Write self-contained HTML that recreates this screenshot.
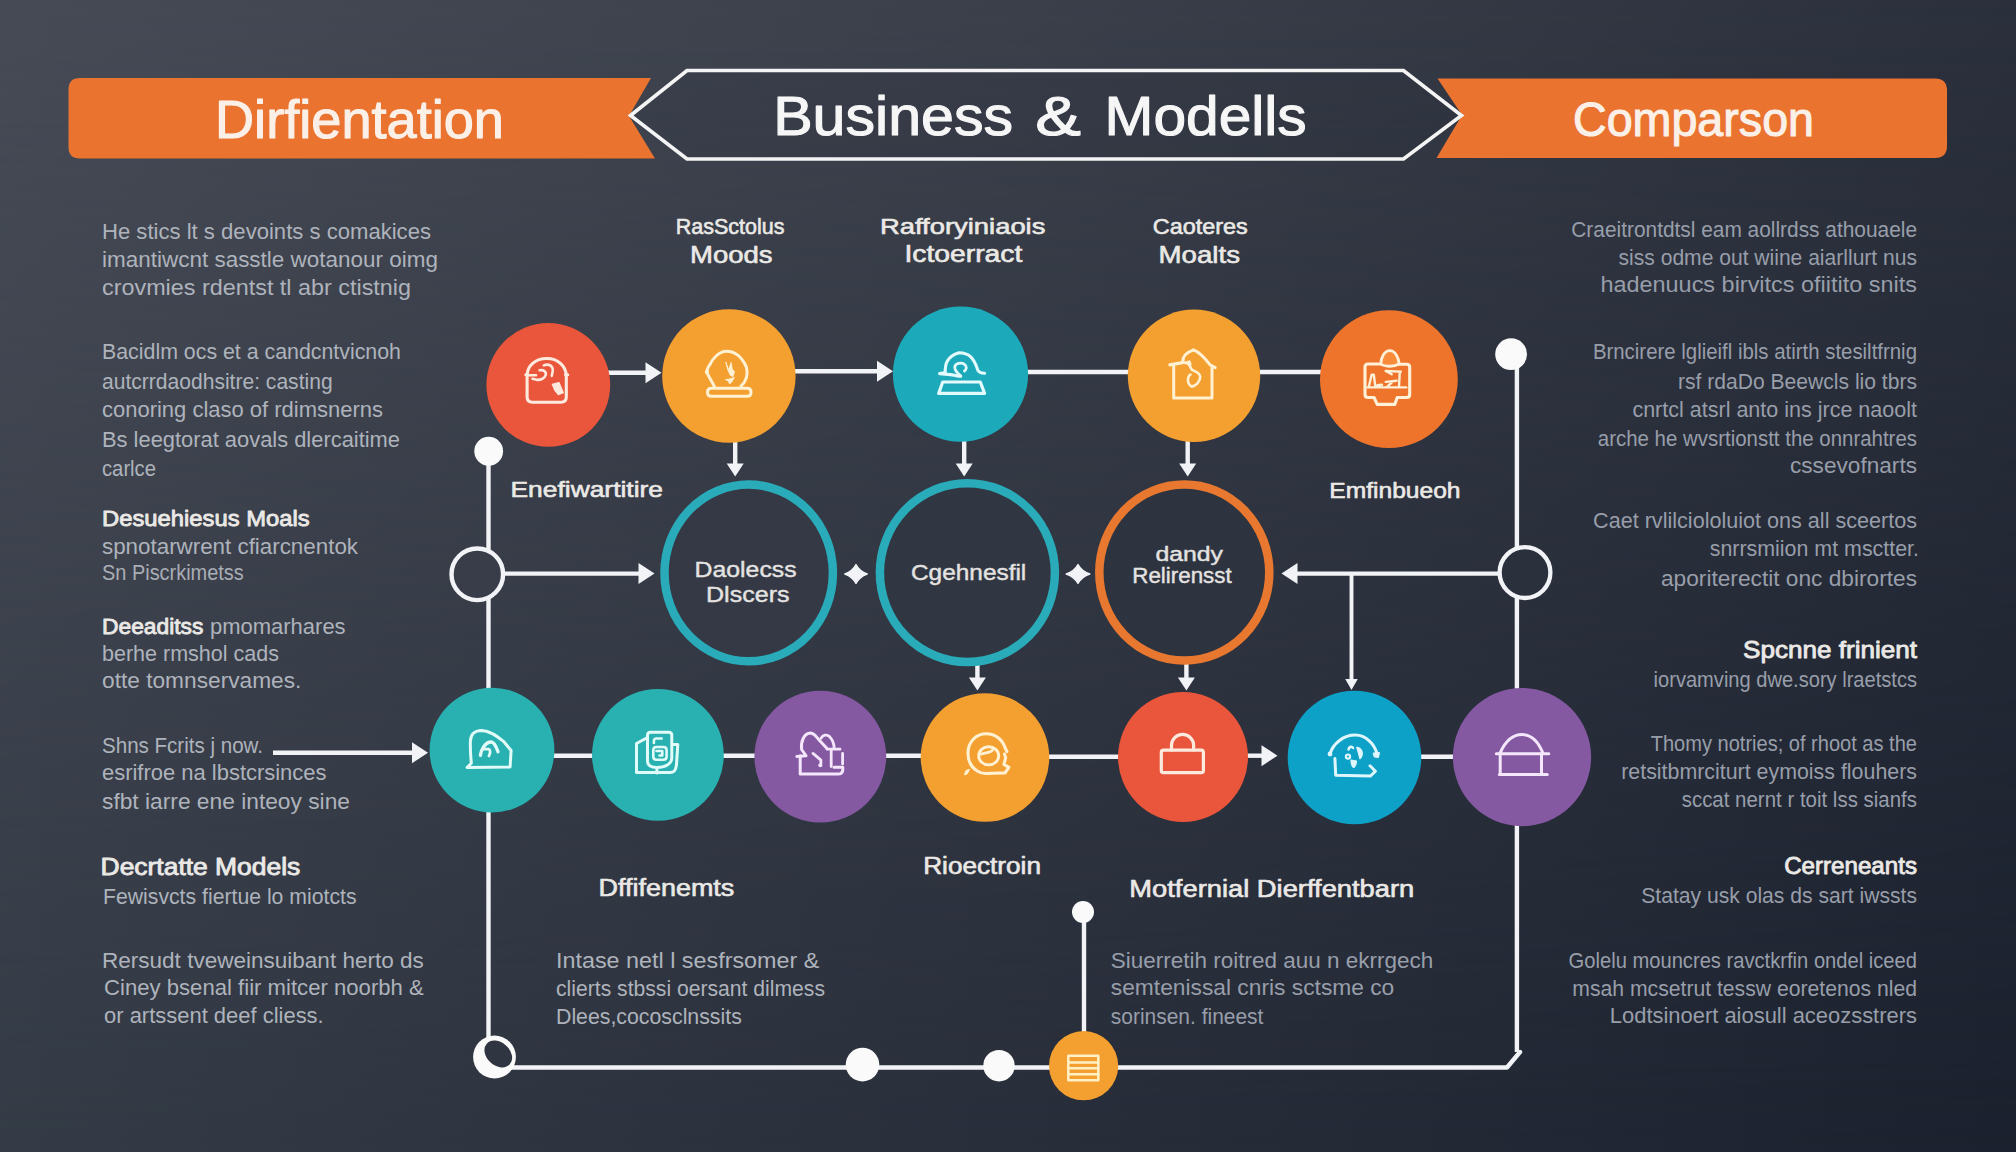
<!DOCTYPE html>
<html lang="en"><head><meta charset="utf-8"><title>Business &amp; Modells</title>
<style>html,body{margin:0;padding:0;background:#30353f;}body{width:2016px;height:1152px;overflow:hidden;}svg{display:block;}text{font-family:"Liberation Sans", "DejaVu Sans", sans-serif;}</style>
</head><body>
<svg width="2016" height="1152" viewBox="0 0 2016 1152">
<defs>
<linearGradient id="gt" x1="0" y1="0" x2="1" y2="0"><stop offset="0" stop-color="#474b56"/><stop offset="0.5" stop-color="#3b404b"/><stop offset="1" stop-color="#2b303c"/></linearGradient>
<linearGradient id="gb" x1="0" y1="0" x2="1" y2="0"><stop offset="0" stop-color="#343b46"/><stop offset="0.5" stop-color="#282e3a"/><stop offset="1" stop-color="#1b212e"/></linearGradient>
<linearGradient id="gm" x1="0" y1="0" x2="0" y2="1"><stop offset="0" stop-color="#000"/><stop offset="1" stop-color="#fff"/></linearGradient>
<mask id="mk" maskUnits="userSpaceOnUse" x="0" y="0" width="2016" height="1152"><rect width="2016" height="1152" fill="url(#gm)"/></mask>
</defs>
<rect width="2016" height="1152" fill="url(#gt)"/>
<rect width="2016" height="1152" fill="url(#gb)" mask="url(#mk)"/>
<path d="M80,78 H651 L629,116 L655,158.5 H80 Q68.5,158.5 68.5,147 V89.5 Q68.5,78 80,78 Z" fill="#ea7330"/>
<path d="M1437.5,78.5 H1935 Q1947,78.5 1947,90.5 V146 Q1947,158 1935,158 H1436.5 L1462,115 Z" fill="#ea7330"/>
<path d="M630.5,115.5 L687,70.5 H1403.5 L1461.5,115.5 L1403.5,159 H687 Z" fill="rgba(0,0,10,0.05)" stroke="#f4f4f4" stroke-width="3.6" stroke-linejoin="miter"/>
<text x="215.0" y="137.5" font-size="53" font-weight="normal" fill="#fbf0e8" text-anchor="start" textLength="289.0" lengthAdjust="spacingAndGlyphs" stroke="#fbf0e8" stroke-width="1.1" stroke-linejoin="round">Dirfientation</text>
<text x="773.2" y="134.8" font-size="56" font-weight="normal" fill="#f6f6f6" text-anchor="start" textLength="239.8" lengthAdjust="spacingAndGlyphs" stroke="#f6f6f6" stroke-width="1.1" stroke-linejoin="round">Business</text>
<text x="1035.3" y="134.8" font-size="56" font-weight="normal" fill="#f6f6f6" text-anchor="start" textLength="45.7" lengthAdjust="spacingAndGlyphs" stroke="#f6f6f6" stroke-width="1.1" stroke-linejoin="round">&amp;</text>
<text x="1104.5" y="134.8" font-size="56" font-weight="normal" fill="#f6f6f6" text-anchor="start" textLength="202.2" lengthAdjust="spacingAndGlyphs" stroke="#f6f6f6" stroke-width="1.1" stroke-linejoin="round">Modells</text>
<text x="1573.0" y="136.3" font-size="49" font-weight="normal" fill="#fbf0e8" text-anchor="start" textLength="241.0" lengthAdjust="spacingAndGlyphs" stroke="#fbf0e8" stroke-width="1.1" stroke-linejoin="round">Comparson</text>
<line x1="488.5" y1="451" x2="488.5" y2="1040" stroke="#f1f3f6" stroke-width="4.4"/>
<line x1="1516.9" y1="354" x2="1516.9" y2="1052" stroke="#f1f3f6" stroke-width="4.4"/>
<path d="M500,1067.5 H1507 L1520,1052" fill="none" stroke="#f1f3f6" stroke-width="4.4" stroke-linejoin="round" stroke-linecap="round"/>
<line x1="606" y1="372.7" x2="648" y2="372.7" stroke="#f1f3f6" stroke-width="4.4"/>
<path d="M661.5,372.7 L645.5,362.2 V383.2 Z" fill="#f1f3f6"/>
<line x1="792" y1="371.2" x2="879" y2="371.2" stroke="#f1f3f6" stroke-width="4.4"/>
<path d="M893,371.2 L877,360.7 V381.7 Z" fill="#f1f3f6"/>
<line x1="1025" y1="372" x2="1130" y2="372" stroke="#f1f3f6" stroke-width="4.4"/>
<line x1="1258" y1="372" x2="1322" y2="372" stroke="#f1f3f6" stroke-width="4.4"/>
<line x1="735.2" y1="440" x2="735.2" y2="465" stroke="#f1f3f6" stroke-width="4.4"/>
<path d="M735.2,476.5 L726.7,463.5 H743.7 Z" fill="#f1f3f6"/>
<line x1="964.2" y1="440" x2="964.2" y2="465" stroke="#f1f3f6" stroke-width="4.4"/>
<path d="M964.2,476.5 L955.7,463.5 H972.7 Z" fill="#f1f3f6"/>
<line x1="1187.7" y1="440" x2="1187.7" y2="465" stroke="#f1f3f6" stroke-width="4.4"/>
<path d="M1187.7,476.5 L1179.2,463.5 H1196.2 Z" fill="#f1f3f6"/>
<line x1="502" y1="573.6" x2="640" y2="573.6" stroke="#f1f3f6" stroke-width="4.4"/>
<path d="M654.5,573.6 L638.5,563.1 V584.1 Z" fill="#f1f3f6"/>
<line x1="1296" y1="573.6" x2="1500" y2="573.6" stroke="#f1f3f6" stroke-width="4.4"/>
<path d="M1281.5,573.6 L1297.5,563.1 V584.1 Z" fill="#f1f3f6"/>
<line x1="1351.5" y1="573.6" x2="1351.5" y2="680" stroke="#f1f3f6" stroke-width="3.9"/>
<path d="M1351.5,690 L1345.25,679 H1357.75 Z" fill="#f1f3f6"/>
<line x1="977.4" y1="662" x2="977.4" y2="679" stroke="#f1f3f6" stroke-width="4.4"/>
<path d="M977.4,690.5 L968.9,677.5 H985.9 Z" fill="#f1f3f6"/>
<line x1="1186.4" y1="662" x2="1186.4" y2="679" stroke="#f1f3f6" stroke-width="4.4"/>
<path d="M1186.4,690.5 L1177.9,677.5 H1194.9 Z" fill="#f1f3f6"/>
<line x1="273" y1="752.7" x2="414" y2="752.7" stroke="#f1f3f6" stroke-width="4.4"/>
<path d="M428,752.7 L412,742.2 V763.2 Z" fill="#f1f3f6"/>
<line x1="550" y1="755.7" x2="925" y2="755.7" stroke="#f1f3f6" stroke-width="4.4"/>
<line x1="1045" y1="756.8" x2="1120" y2="756.8" stroke="#f1f3f6" stroke-width="4.4"/>
<line x1="1245" y1="755.7" x2="1263" y2="755.7" stroke="#f1f3f6" stroke-width="4.4"/>
<path d="M1277.5,755.7 L1261.5,745.2 V766.2 Z" fill="#f1f3f6"/>
<line x1="1418" y1="756.8" x2="1456" y2="756.8" stroke="#f1f3f6" stroke-width="4.4"/>
<line x1="1084" y1="912" x2="1084" y2="1035" stroke="#f1f3f6" stroke-width="4.4"/>
<path d="M844.8,574 Q852.64,571.18 856,564.6 Q859.36,571.18 867.2,574 Q859.36,576.82 856,583.4 Q852.64,576.82 844.8,574 Z" fill="#f1f3f6" stroke="#f1f3f6" stroke-width="1.4" stroke-linejoin="round"/>
<path d="M1066.2,574 Q1074.46,571.18 1078,564.6 Q1081.54,571.18 1089.8,574 Q1081.54,576.82 1078,583.4 Q1074.46,576.82 1066.2,574 Z" fill="#f1f3f6" stroke="#f1f3f6" stroke-width="1.4" stroke-linejoin="round"/>
<circle cx="548.3" cy="384.9" r="61.9" fill="#e9563b"/>
<circle cx="728.9" cy="376" r="66.7" fill="#f4a031"/>
<circle cx="960.5" cy="374.1" r="67.6" fill="#1caabb"/>
<circle cx="1194" cy="375.8" r="66.2" fill="#f4a031"/>
<circle cx="1388.9" cy="379.2" r="68.9" fill="#ee742b"/>
<circle cx="492" cy="750.1" r="62.4" fill="#29b0b0"/>
<circle cx="657.9" cy="754.9" r="65.9" fill="#29b0b0"/>
<circle cx="820.3" cy="756.6" r="65.9" fill="#8558a2"/>
<circle cx="985" cy="757.5" r="64.3" fill="#f4a031"/>
<circle cx="1183" cy="757" r="65" fill="#e9563b"/>
<circle cx="1354.5" cy="757.5" r="66.8" fill="#0ea1c8"/>
<circle cx="1522" cy="757.1" r="69.1" fill="#8558a2"/>
<circle cx="1083.6" cy="1065.7" r="34.6" fill="#f4a031"/>
<ellipse cx="748.7" cy="572.9" rx="84.2" ry="88.4" fill="#343945" stroke="#29abb9" stroke-width="8.5"/>
<ellipse cx="967.4" cy="572.6" rx="87.5" ry="89.4" fill="#313742" stroke="#29abb9" stroke-width="8.5"/>
<ellipse cx="1184.3" cy="572.5" rx="85" ry="88" fill="#2e343f" stroke="#e8782f" stroke-width="8.5"/>
<ellipse cx="477.3" cy="574.3" rx="25.8" ry="25.8" fill="#383d49" stroke="#f1f3f6" stroke-width="4.4"/>
<ellipse cx="1525" cy="572.6" rx="25.4" ry="25.4" fill="#2a303c" stroke="#f1f3f6" stroke-width="4.3"/>
<circle cx="488.7" cy="451.2" r="14.4" fill="#fafafa"/>
<circle cx="1511.1" cy="354.2" r="15.9" fill="#fafafa"/>
<circle cx="1083" cy="912" r="11" fill="#fafafa"/>
<circle cx="862.5" cy="1064.6" r="16.8" fill="#fafafa"/>
<circle cx="999" cy="1065.7" r="15.7" fill="#fafafa"/>
<circle cx="494.5" cy="1057" r="21.4" fill="#fafafa"/>
<ellipse cx="498.3" cy="1054" rx="15.5" ry="11.5" fill="#303641" transform="rotate(42 498.3 1054)"/>
<path d="M527.1,375 C527.5,366 535,358.5 546.9,358.5 C558,358.5 565.5,366 566.3,375 V397 Q566.3,402.2 561,402.2 H532.5 Q527.1,402.2 527.1,397 Z" fill="none" stroke="#fdeadf" stroke-width="3.1" stroke-linecap="round" stroke-linejoin="round"/>
<path d="M525.8,374.8 H528 M565.5,374.8 H567.8" fill="none" stroke="#fdeadf" stroke-width="3" stroke-linecap="round" stroke-linejoin="round"/>
<path d="M528.5,375.3 H536 M539.6,370.3 C544,369.5 546.5,372 545.7,375 C544.8,378.5 540,380.5 536.6,379.7 L532.5,378.8" fill="none" stroke="#fdeadf" stroke-width="2.6" stroke-linecap="round" stroke-linejoin="round"/>
<path d="M543.8,365.4 C547,364 551,364.5 552.5,368 C553.5,371 552.5,373.5 551.7,375.8" fill="none" stroke="#fdeadf" stroke-width="2.6" stroke-linecap="round" stroke-linejoin="round"/>
<path d="M552.3,384.3 L559,382.5 L563.3,392.8 L558.4,394.6 L554.8,390.3 Z" fill="#fdeadf" stroke="#fdeadf" stroke-width="1.2" stroke-linecap="round" stroke-linejoin="round"/>
<path d="M714.3,386.2 L707.8,374.5 C706,371 708,367 710,364.3 C712.5,359 719,351.2 726.5,351.2 C735,351.2 742,357 746.5,367.3 C748,374 746.5,381 741,386.2" fill="none" stroke="#fff1d2" stroke-width="3" stroke-linecap="round" stroke-linejoin="round"/>
<circle cx="706.9" cy="372" r="2.1" fill="#fff1d2"/>
<path d="M711.5,388.3 H747 Q751,388.3 751,392.2 Q751,396.2 747,396.2 H711.5 Q707.5,396.2 707.5,392.2 Q707.5,388.3 711.5,388.3 Z" fill="none" stroke="#fff1d2" stroke-width="3" stroke-linecap="round" stroke-linejoin="round"/>
<path d="M726,362.5 L728.2,370 L730,366 L731,362.5 L732.3,369.5 L734.5,371.5 L733,376.5 L730.5,375.5 L728.5,371.5 Z" fill="#fff1d2" stroke="#fff1d2" stroke-width="1" stroke-linecap="round" stroke-linejoin="round"/>
<path d="M725.8,379.5 L730,379 L734.3,377.5 L732,381.5 L729.7,384 L728.5,381.5 Z" fill="#fff1d2" stroke="#fff1d2" stroke-width="1" stroke-linecap="round" stroke-linejoin="round"/>
<path d="M939.8,373.4 L945.2,372.4 C945,364 947,356.5 959,352.8 C969,352.8 974,358 977.9,370.4 C979,372.5 982,373.2 984.6,373.2" fill="none" stroke="#e3fbfd" stroke-width="3.1" stroke-linecap="round" stroke-linejoin="round"/>
<path d="M939.8,373.7 L950.6,374.6 C954,375 957,376.6 960.5,376.1" fill="none" stroke="#e3fbfd" stroke-width="3.1" stroke-linecap="round" stroke-linejoin="round"/>
<path d="M960.9,376.1 C957.5,373.5 954.5,370 954.8,366.7 C955.3,363.5 961,362 964.5,364.3 C967,366 966.8,369.5 964.5,371" fill="none" stroke="#e3fbfd" stroke-width="2.8" stroke-linecap="round" stroke-linejoin="round"/>
<path d="M942.7,382 H980.3 L984.6,393.4 H938.7 Z" fill="none" stroke="#e3fbfd" stroke-width="3.2" stroke-linecap="round" stroke-linejoin="round"/>
<path d="M1173.7,365.3 V398.1 H1212 V367.8" fill="none" stroke="#fff1d2" stroke-width="3" stroke-linecap="round" stroke-linejoin="round"/>
<path d="M1169.8,364.8 L1182.6,362.6" fill="none" stroke="#fff1d2" stroke-width="3.2" stroke-linecap="round" stroke-linejoin="round"/>
<path d="M1182.8,361.7 C1182.5,356 1186,352.5 1193.5,349.8 C1199,352 1205,358 1209.9,364.7 L1215.2,367.6" fill="none" stroke="#fff1d2" stroke-width="3" stroke-linecap="round" stroke-linejoin="round"/>
<path d="M1183.5,362.3 L1189,364 L1191.7,369.6 C1194,371.5 1199.5,372 1200.2,376.5 C1200.5,381.5 1196,386 1191.7,386.6 C1188.5,385.5 1187.2,381 1188.3,377.5 C1188.8,376 1189.5,375 1190.5,374.5" fill="none" stroke="#fff1d2" stroke-width="2.6" stroke-linecap="round" stroke-linejoin="round"/>
<path d="M1186.8,361.5 L1190,360.8 L1191.2,364.5 L1189.5,366.5 Z" fill="#fff1d2" stroke="#fff1d2" stroke-width="1" stroke-linecap="round" stroke-linejoin="round"/>
<path d="M1380.8,364 C1381,357 1384.5,350.6 1389.9,350.6 C1395,350.6 1398.5,357 1399.2,364 C1393,367.5 1384,366.5 1380.8,364 Z" fill="#f78b3a" stroke="#fff0d8" stroke-width="2.8" stroke-linecap="round" stroke-linejoin="round"/>
<path d="M1368,364 H1380.5 M1399.5,364.2 H1406.7 Q1409.7,364.2 1409.7,367.2 V394.5 Q1409.7,397.5 1406.7,397.5 H1397.2 L1394.8,404.4 H1377.2 L1374.1,397.5 H1368 Q1365,397.5 1365,394.5 V367 Q1365,364 1368,364" fill="none" stroke="#fff0d8" stroke-width="3.1" stroke-linecap="round" stroke-linejoin="round"/>
<path d="M1367.4,387.4 H1406.3 M1368.9,386.5 L1371.7,374.6 H1373.8 L1375.3,386.5 M1385.7,371 L1400.9,371.6 M1399.8,372 L1399,386.5 M1385.7,371 L1391.7,374.3 M1385.7,381.9 L1396.6,380.7 M1392,382.3 L1387.5,386.3 M1377.5,385.3 L1382,384.8" fill="none" stroke="#fff0d8" stroke-width="2.4" stroke-linecap="round" stroke-linejoin="round"/>
<path d="M467,767.5 L471.3,763.2 C470.5,755 470.2,748 470.4,741.3 C470.5,735 474,730.4 481.6,730.4 C490,730.6 497,736 503.5,741.3 L511.1,750.5 L510.1,766.9 Z" fill="none" stroke="#e1fbf9" stroke-width="3" stroke-linecap="round" stroke-linejoin="round"/>
<path d="M480.4,755.3 C481,750 485,742 491.3,742 C494.5,742 496.5,747.5 498,751.7" fill="none" stroke="#e1fbf9" stroke-width="3.4" stroke-linecap="round" stroke-linejoin="round"/>
<path d="M484.8,749.2 H489 C490.5,750 490.5,753.5 488.9,755.9" fill="none" stroke="#e1fbf9" stroke-width="2.8" stroke-linecap="round" stroke-linejoin="round"/>
<path d="M646.6,738 L636.5,743.5 V772.5 H656.9 M672.7,744.4 H677.8 L676.5,764.5 C676,770 674.5,772.5 670,772.5 H657" fill="none" stroke="#e1fbf9" stroke-width="3" stroke-linecap="round" stroke-linejoin="round"/>
<path d="M650.5,732.2 H668.8 Q671.8,732.2 671.8,735.2 V758 C671.8,764 665,767.5 656.9,767.6 C651,767.5 647.5,765 647.5,761 V735.2 Q647.5,732.2 650.5,732.2 Z M656.9,767.6 V773" fill="none" stroke="#e1fbf9" stroke-width="3" stroke-linecap="round" stroke-linejoin="round"/>
<path d="M653.9,743 V741 Q653.9,738.5 656.5,738.5 H661.7 M653.3,750 Q653.3,747 656.5,747 H663.5 Q666.6,747 666.6,750 V756.5 Q666.6,759.7 663.5,759.7 H656.5 Q653.3,759.7 653.3,756.5 Z M656.5,751 H662.3 V755.5 H659.5" fill="none" stroke="#e1fbf9" stroke-width="2.6" stroke-linecap="round" stroke-linejoin="round"/>
<path d="M800.2,755.8 V774.1 H838 Q842.8,774.1 842.8,769.5 V767.2 H834" fill="none" stroke="#f4e6fb" stroke-width="3" stroke-linecap="round" stroke-linejoin="round"/>
<path d="M796.8,756.4 L806,755.8" fill="none" stroke="#f4e6fb" stroke-width="3" stroke-linecap="round" stroke-linejoin="round"/>
<path d="M805.5,755 L801.6,749.5 C800.5,742 804,733.2 810.6,733.1 C815,733.5 817,738 820.5,741.5 L827,748.6" fill="none" stroke="#f4e6fb" stroke-width="3" stroke-linecap="round" stroke-linejoin="round"/>
<path d="M821,738.2 C823,735 826.5,734 829.4,736.4 C832,739 834.2,743 834.2,748.5" fill="none" stroke="#f4e6fb" stroke-width="2.8" stroke-linecap="round" stroke-linejoin="round"/>
<path d="M827,749.2 H840 M831.2,749.2 V766.5 M842.6,753.5 V764" fill="none" stroke="#f4e6fb" stroke-width="2.8" stroke-linecap="round" stroke-linejoin="round"/>
<path d="M813,753.4 L820.9,760.1 V764" fill="none" stroke="#f4e6fb" stroke-width="2.8" stroke-linecap="round" stroke-linejoin="round"/>
<circle cx="820.3" cy="765.3" r="2" fill="#f4e6fb"/>
<path d="M1006.9,751.5 L1005.2,748 C1002.5,739.5 995.5,733.7 986.3,733.7 C976,733.7 968,742 968,752.8 C968,762 971.5,767.5 977.2,771 C980,772.8 982.5,773.5 985.5,773.5 L1005.1,772.9 L1008.8,767.4 L1003.9,764.4 L1005.7,757.7 L1004.5,754" fill="none" stroke="#fff1d2" stroke-width="3.1" stroke-linecap="round" stroke-linejoin="round"/>
<path d="M964.5,774.5 L966,770.5 L969.5,769.3 L967.5,773.5 Z" fill="#fff1d2" stroke="#fff1d2" stroke-width="1" stroke-linecap="round" stroke-linejoin="round"/>
<ellipse cx="988.7" cy="755.8" rx="10" ry="9.1" fill="none" stroke="#fff1d2" stroke-width="2.9"/>
<path d="M980.8,754.2 L989.3,752.2 C991,751.5 992.5,750.5 993,749.2" fill="none" stroke="#fff1d2" stroke-width="2.8" stroke-linecap="round" stroke-linejoin="round"/>
<path d="M1163.5,750.1 H1201.2 Q1203.4,750.1 1203.4,752.3 V770.4 Q1203.4,772.6 1201.2,772.6 H1163.5 Q1161.3,772.6 1161.3,770.4 V752.3 Q1161.3,750.1 1163.5,750.1 Z" fill="none" stroke="#fdeadf" stroke-width="3.2" stroke-linecap="round" stroke-linejoin="round"/>
<path d="M1171.5,750 V745.3 A11.05,11 0 0 1 1193.6,745.3 V750" fill="none" stroke="#fdeadf" stroke-width="3.2" stroke-linecap="round" stroke-linejoin="round"/>
<path d="M1330.2,753.5 C1333,744 1343,735.1 1355.3,735.1 C1366,735.1 1374.5,744 1377,753.8" fill="none" stroke="#dff6fd" stroke-width="3" stroke-linecap="round" stroke-linejoin="round"/>
<circle cx="1330" cy="754" r="2.4" fill="#dff6fd"/>
<path d="M1373.5,753 L1379.5,752.5 L1378.5,757.5 L1374.5,757 Z" fill="#dff6fd" stroke="#dff6fd" stroke-width="1" stroke-linecap="round" stroke-linejoin="round"/>
<path d="M1334.9,758.5 L1335.7,775.3 L1370.5,776 L1375.4,771.2 L1370,765.8" fill="none" stroke="#dff6fd" stroke-width="3" stroke-linecap="round" stroke-linejoin="round"/>
<path d="M1348.5,749.5 C1349,746.5 1352,746 1353,748" fill="none" stroke="#dff6fd" stroke-width="2.6" stroke-linecap="round" stroke-linejoin="round"/>
<circle cx="1348" cy="756.6" r="2.1" fill="none" stroke="#dff6fd" stroke-width="2.2"/>
<path d="M1357,747.5 C1362,748.5 1364,754 1360,758.5 L1358.5,752.5 Z" fill="#dff6fd" stroke="#dff6fd" stroke-width="1.6" stroke-linecap="round" stroke-linejoin="round"/>
<path d="M1351,760 C1351,765 1353,767.5 1354,767.5 C1355.5,766 1356.5,763 1356.5,761 Z" fill="#dff6fd" stroke="#dff6fd" stroke-width="1.2" stroke-linecap="round" stroke-linejoin="round"/>
<path d="M1496.3,753.7 H1548.8" fill="none" stroke="#f4e6fb" stroke-width="3" stroke-linecap="round" stroke-linejoin="round"/>
<path d="M1500.2,752.8 C1506,740 1514,734.6 1522.1,734.6 C1531,734.6 1538,741 1542.8,752.8" fill="none" stroke="#f4e6fb" stroke-width="3" stroke-linecap="round" stroke-linejoin="round"/>
<path d="M1500.2,753.7 V774.4 M1541.5,753.7 V774.4 M1499.3,774.4 H1547.3" fill="none" stroke="#f4e6fb" stroke-width="3" stroke-linecap="round" stroke-linejoin="round"/>
<path d="M1068.3,1055.8 H1098.3 V1080.2 H1068.3 Z" fill="none" stroke="#fff0c6" stroke-width="2.5" stroke-linecap="round" stroke-linejoin="round"/>
<path d="M1068.3,1062.4 H1098.3 M1068.3,1068.3 H1098.3 M1068.3,1074.2 H1098.3" fill="none" stroke="#fff0c6" stroke-width="2.5" stroke-linecap="round" stroke-linejoin="round"/>
<text x="675.7" y="233.7" font-size="22.5" font-weight="normal" fill="#ebe9e6" text-anchor="start" textLength="108.7" lengthAdjust="spacingAndGlyphs" stroke="#ebe9e6" stroke-width="0.6" stroke-linejoin="round">RasSctolus</text>
<text x="690.0" y="262.5" font-size="24" font-weight="normal" fill="#ebe9e6" text-anchor="start" textLength="82.6" lengthAdjust="spacingAndGlyphs" stroke="#ebe9e6" stroke-width="0.6" stroke-linejoin="round">Moods</text>
<text x="880.0" y="233.7" font-size="22.5" font-weight="normal" fill="#ebe9e6" text-anchor="start" textLength="165.4" lengthAdjust="spacingAndGlyphs" stroke="#ebe9e6" stroke-width="0.6" stroke-linejoin="round">Rafforyiniaois</text>
<text x="904.4" y="262.0" font-size="23" font-weight="normal" fill="#ebe9e6" text-anchor="start" textLength="118.0" lengthAdjust="spacingAndGlyphs" stroke="#ebe9e6" stroke-width="0.6" stroke-linejoin="round">Ictoerract</text>
<text x="1152.8" y="233.7" font-size="22.5" font-weight="normal" fill="#ebe9e6" text-anchor="start" textLength="95.0" lengthAdjust="spacingAndGlyphs" stroke="#ebe9e6" stroke-width="0.6" stroke-linejoin="round">Caoteres</text>
<text x="1158.6" y="262.5" font-size="24" font-weight="normal" fill="#ebe9e6" text-anchor="start" textLength="81.4" lengthAdjust="spacingAndGlyphs" stroke="#ebe9e6" stroke-width="0.6" stroke-linejoin="round">Moalts</text>
<text x="510.5" y="497.0" font-size="22.5" font-weight="normal" fill="#ebe9e6" text-anchor="start" textLength="152.5" lengthAdjust="spacingAndGlyphs" stroke="#ebe9e6" stroke-width="0.6" stroke-linejoin="round">Enefiwartitire</text>
<text x="1329.3" y="497.8" font-size="22" font-weight="normal" fill="#ebe9e6" text-anchor="start" textLength="131.2" lengthAdjust="spacingAndGlyphs" stroke="#ebe9e6" stroke-width="0.6" stroke-linejoin="round">Emfinbueoh</text>
<text x="694.6" y="577.4" font-size="21.5" font-weight="normal" fill="#e4e3e1" text-anchor="start" textLength="102.0" lengthAdjust="spacingAndGlyphs" stroke="#e4e3e1" stroke-width="0.4" stroke-linejoin="round">Daolecss</text>
<text x="706.0" y="601.8" font-size="21.5" font-weight="normal" fill="#e4e3e1" text-anchor="start" textLength="83.5" lengthAdjust="spacingAndGlyphs" stroke="#e4e3e1" stroke-width="0.4" stroke-linejoin="round">Dlscers</text>
<text x="911.0" y="580.0" font-size="21.5" font-weight="normal" fill="#e4e3e1" text-anchor="start" textLength="115.3" lengthAdjust="spacingAndGlyphs" stroke="#e4e3e1" stroke-width="0.4" stroke-linejoin="round">Cgehnesfil</text>
<text x="1155.4" y="560.7" font-size="20" font-weight="normal" fill="#e4e3e1" text-anchor="start" textLength="67.6" lengthAdjust="spacingAndGlyphs" stroke="#e4e3e1" stroke-width="0.4" stroke-linejoin="round">dandy</text>
<text x="1132.3" y="583.1" font-size="21.5" font-weight="normal" fill="#e4e3e1" text-anchor="start" textLength="99.3" lengthAdjust="spacingAndGlyphs" stroke="#e4e3e1" stroke-width="0.4" stroke-linejoin="round">Relirensst</text>
<text x="598.5" y="896.0" font-size="23" font-weight="normal" fill="#ebe9e6" text-anchor="start" textLength="135.8" lengthAdjust="spacingAndGlyphs" stroke="#ebe9e6" stroke-width="0.6" stroke-linejoin="round">Dffifenemts</text>
<text x="923.2" y="873.8" font-size="23" font-weight="normal" fill="#ebe9e6" text-anchor="start" textLength="117.8" lengthAdjust="spacingAndGlyphs" stroke="#ebe9e6" stroke-width="0.6" stroke-linejoin="round">Rioectroin</text>
<text x="1129.3" y="896.5" font-size="23" font-weight="normal" fill="#ebe9e6" text-anchor="start" textLength="285.0" lengthAdjust="spacingAndGlyphs" stroke="#ebe9e6" stroke-width="0.6" stroke-linejoin="round">Motfernial Dierffentbarn</text>
<text x="102.0" y="239.0" font-size="21.5" font-weight="normal" fill="#aeb3bc" text-anchor="start" textLength="329.0" lengthAdjust="spacingAndGlyphs">He stics lt s devoints s comakices</text>
<text x="102.0" y="267.0" font-size="21.5" font-weight="normal" fill="#aeb3bc" text-anchor="start" textLength="336.0" lengthAdjust="spacingAndGlyphs">imantiwcnt sasstle wotanour oimg</text>
<text x="102.0" y="295.0" font-size="21.5" font-weight="normal" fill="#aeb3bc" text-anchor="start" textLength="309.0" lengthAdjust="spacingAndGlyphs">crovmies rdentst tl abr ctistnig</text>
<text x="102.0" y="359.4" font-size="21.5" font-weight="normal" fill="#aeb3bc" text-anchor="start" textLength="299.0" lengthAdjust="spacingAndGlyphs">Bacidlm ocs et a candcntvicnoh</text>
<text x="102.0" y="388.8" font-size="21.5" font-weight="normal" fill="#aeb3bc" text-anchor="start" textLength="230.6" lengthAdjust="spacingAndGlyphs">autcrrdaodhsitre: casting</text>
<text x="102.0" y="417.4" font-size="21.5" font-weight="normal" fill="#aeb3bc" text-anchor="start" textLength="281.0" lengthAdjust="spacingAndGlyphs">conoring claso of rdimsnerns</text>
<text x="102.0" y="446.9" font-size="21.5" font-weight="normal" fill="#aeb3bc" text-anchor="start" textLength="298.0" lengthAdjust="spacingAndGlyphs">Bs leegtorat aovals dlercaitime</text>
<text x="102.0" y="476.0" font-size="21.5" font-weight="normal" fill="#aeb3bc" text-anchor="start" textLength="54.0" lengthAdjust="spacingAndGlyphs">carlce</text>
<text x="102.0" y="526.3" font-size="22.5" font-weight="normal" fill="#ebe9e6" text-anchor="start" textLength="207.6" lengthAdjust="spacingAndGlyphs" stroke="#ebe9e6" stroke-width="0.85" stroke-linejoin="round">Desuehiesus Moals</text>
<text x="102.0" y="554.3" font-size="21.5" font-weight="normal" fill="#aeb3bc" text-anchor="start" textLength="256.0" lengthAdjust="spacingAndGlyphs">spnotarwrent cfiarcnentok</text>
<text x="102.0" y="580.0" font-size="21.5" font-weight="normal" fill="#a9adb5" text-anchor="start" textLength="141.8" lengthAdjust="spacingAndGlyphs">Sn Piscrkimetss</text>
<text x="102.0" y="634.0" font-size="22.5" font-weight="normal" fill="#ebe9e6" text-anchor="start" textLength="101.4" lengthAdjust="spacingAndGlyphs" stroke="#ebe9e6" stroke-width="0.85" stroke-linejoin="round">Deeaditss</text>
<text x="210.0" y="634.0" font-size="21.5" font-weight="normal" fill="#aeb3bc" text-anchor="start" textLength="135.6" lengthAdjust="spacingAndGlyphs">pmomarhares</text>
<text x="102.0" y="661.2" font-size="21.5" font-weight="normal" fill="#aeb3bc" text-anchor="start" textLength="177.0" lengthAdjust="spacingAndGlyphs">berhe rmshol cads</text>
<text x="102.0" y="688.3" font-size="21.5" font-weight="normal" fill="#aeb3bc" text-anchor="start" textLength="199.4" lengthAdjust="spacingAndGlyphs">otte tomnservames.</text>
<text x="102.0" y="752.7" font-size="21.5" font-weight="normal" fill="#aeb3bc" text-anchor="start" textLength="161.0" lengthAdjust="spacingAndGlyphs">Shns Fcrits j now.</text>
<text x="102.0" y="779.8" font-size="21.5" font-weight="normal" fill="#aeb3bc" text-anchor="start" textLength="224.5" lengthAdjust="spacingAndGlyphs">esrifroe na lbstcrsinces</text>
<text x="102.0" y="808.8" font-size="21.5" font-weight="normal" fill="#aeb3bc" text-anchor="start" textLength="248.0" lengthAdjust="spacingAndGlyphs">sfbt iarre ene inteoy sine</text>
<text x="100.6" y="874.5" font-size="23.5" font-weight="normal" fill="#ebe9e6" text-anchor="start" textLength="199.7" lengthAdjust="spacingAndGlyphs" stroke="#ebe9e6" stroke-width="0.85" stroke-linejoin="round">Decrtatte Models</text>
<text x="103.0" y="903.8" font-size="21.5" font-weight="normal" fill="#aeb3bc" text-anchor="start" textLength="253.5" lengthAdjust="spacingAndGlyphs">Fewisvcts fiertue lo miotcts</text>
<text x="102.0" y="967.8" font-size="21.5" font-weight="normal" fill="#aeb3bc" text-anchor="start" textLength="321.8" lengthAdjust="spacingAndGlyphs">Rersudt tveweinsuibant herto ds</text>
<text x="104.0" y="995.2" font-size="21.5" font-weight="normal" fill="#aeb3bc" text-anchor="start" textLength="319.8" lengthAdjust="spacingAndGlyphs">Ciney bsenal fiir mitcer noorbh &amp;</text>
<text x="104.0" y="1023.3" font-size="21.5" font-weight="normal" fill="#aeb3bc" text-anchor="start" textLength="219.7" lengthAdjust="spacingAndGlyphs">or artssent deef cliess.</text>
<text x="556.0" y="967.5" font-size="21.5" font-weight="normal" fill="#aeb3bc" text-anchor="start" textLength="263.3" lengthAdjust="spacingAndGlyphs">Intase netl l sesfrsomer &amp;</text>
<text x="556.0" y="996.0" font-size="21.5" font-weight="normal" fill="#aeb3bc" text-anchor="start" textLength="269.0" lengthAdjust="spacingAndGlyphs">clierts stbssi oersant dilmess</text>
<text x="556.0" y="1023.6" font-size="21.5" font-weight="normal" fill="#aeb3bc" text-anchor="start" textLength="185.8" lengthAdjust="spacingAndGlyphs">Dlees,cocosclnssits</text>
<text x="1110.8" y="968.0" font-size="21.5" font-weight="normal" fill="#989eaa" text-anchor="start" textLength="322.5" lengthAdjust="spacingAndGlyphs">Siuerretih roitred auu n ekrrgech</text>
<text x="1110.8" y="995.3" font-size="21.5" font-weight="normal" fill="#989eaa" text-anchor="start" textLength="283.5" lengthAdjust="spacingAndGlyphs">semtenissal cnris sctsme co</text>
<text x="1110.8" y="1023.8" font-size="21.5" font-weight="normal" fill="#989eaa" text-anchor="start" textLength="152.6" lengthAdjust="spacingAndGlyphs">sorinsen. fineest</text>
<text x="1571.3" y="236.5" font-size="21.5" font-weight="normal" fill="#989eaa" text-anchor="start" textLength="345.7" lengthAdjust="spacingAndGlyphs">Craeitrontdtsl eam aollrdss athouaele</text>
<text x="1618.6" y="264.6" font-size="21.5" font-weight="normal" fill="#989eaa" text-anchor="start" textLength="298.4" lengthAdjust="spacingAndGlyphs">siss odme out wiine aiarllurt nus</text>
<text x="1600.4" y="292.4" font-size="21.5" font-weight="normal" fill="#989eaa" text-anchor="start" textLength="316.6" lengthAdjust="spacingAndGlyphs">hadenuucs birvitcs ofiitito snits</text>
<text x="1592.9" y="359.4" font-size="21.5" font-weight="normal" fill="#989eaa" text-anchor="start" textLength="324.1" lengthAdjust="spacingAndGlyphs">Brncirere lglieifl ibls atirth stesiltfrnig</text>
<text x="1678.0" y="388.8" font-size="21.5" font-weight="normal" fill="#989eaa" text-anchor="start" textLength="239.0" lengthAdjust="spacingAndGlyphs">rsf rdaDo Beewcls lio tbrs</text>
<text x="1632.4" y="417.4" font-size="21.5" font-weight="normal" fill="#989eaa" text-anchor="start" textLength="284.6" lengthAdjust="spacingAndGlyphs">cnrtcl atsrl anto ins jrce naoolt</text>
<text x="1597.8" y="446.1" font-size="21.5" font-weight="normal" fill="#989eaa" text-anchor="start" textLength="319.2" lengthAdjust="spacingAndGlyphs">arche he wvsrtionstt the onnrahtres</text>
<text x="1790.0" y="473.4" font-size="21.5" font-weight="normal" fill="#989eaa" text-anchor="start" textLength="127.0" lengthAdjust="spacingAndGlyphs">cssevofnarts</text>
<text x="1593.1" y="527.8" font-size="21.5" font-weight="normal" fill="#989eaa" text-anchor="start" textLength="323.9" lengthAdjust="spacingAndGlyphs">Caet rvlilciololuiot ons all sceertos</text>
<text x="1709.7" y="556.4" font-size="21.5" font-weight="normal" fill="#989eaa" text-anchor="start" textLength="209.3" lengthAdjust="spacingAndGlyphs">snrrsmiion mt msctter.</text>
<text x="1661.0" y="585.9" font-size="21.5" font-weight="normal" fill="#989eaa" text-anchor="start" textLength="256.0" lengthAdjust="spacingAndGlyphs">aporiterectit onc dbirortes</text>
<text x="1743.0" y="657.7" font-size="24" font-weight="normal" fill="#ebe9e6" text-anchor="start" textLength="174.0" lengthAdjust="spacingAndGlyphs" stroke="#ebe9e6" stroke-width="0.85" stroke-linejoin="round">Spcnne frinient</text>
<text x="1653.6" y="687.2" font-size="21.5" font-weight="normal" fill="#989eaa" text-anchor="start" textLength="263.4" lengthAdjust="spacingAndGlyphs">iorvamving dwe.sory lraetstcs</text>
<text x="1650.7" y="751.2" font-size="21.5" font-weight="normal" fill="#989eaa" text-anchor="start" textLength="266.3" lengthAdjust="spacingAndGlyphs">Thomy notries; of rhoot as the</text>
<text x="1621.2" y="779.3" font-size="21.5" font-weight="normal" fill="#989eaa" text-anchor="start" textLength="295.8" lengthAdjust="spacingAndGlyphs">retsitbmrciturt eymoiss flouhers</text>
<text x="1681.7" y="807.3" font-size="21.5" font-weight="normal" fill="#989eaa" text-anchor="start" textLength="235.3" lengthAdjust="spacingAndGlyphs">sccat nernt r toit lss sianfs</text>
<text x="1784.2" y="873.8" font-size="23.5" font-weight="normal" fill="#ebe9e6" text-anchor="start" textLength="132.8" lengthAdjust="spacingAndGlyphs" stroke="#ebe9e6" stroke-width="0.85" stroke-linejoin="round">Cerreneants</text>
<text x="1641.2" y="903.1" font-size="21.5" font-weight="normal" fill="#989eaa" text-anchor="start" textLength="275.8" lengthAdjust="spacingAndGlyphs">Statay usk olas ds sart iwssts</text>
<text x="1568.6" y="967.6" font-size="21.5" font-weight="normal" fill="#989eaa" text-anchor="start" textLength="348.4" lengthAdjust="spacingAndGlyphs">Golelu mouncres ravctkrfin ondel iceed</text>
<text x="1572.3" y="995.9" font-size="21.5" font-weight="normal" fill="#989eaa" text-anchor="start" textLength="344.7" lengthAdjust="spacingAndGlyphs">msah mcsetrut tessw eoretenos nled</text>
<text x="1609.8" y="1023.3" font-size="21.5" font-weight="normal" fill="#989eaa" text-anchor="start" textLength="307.2" lengthAdjust="spacingAndGlyphs">Lodtsinoert aiosull aceozsstrers</text>
</svg></body></html>
